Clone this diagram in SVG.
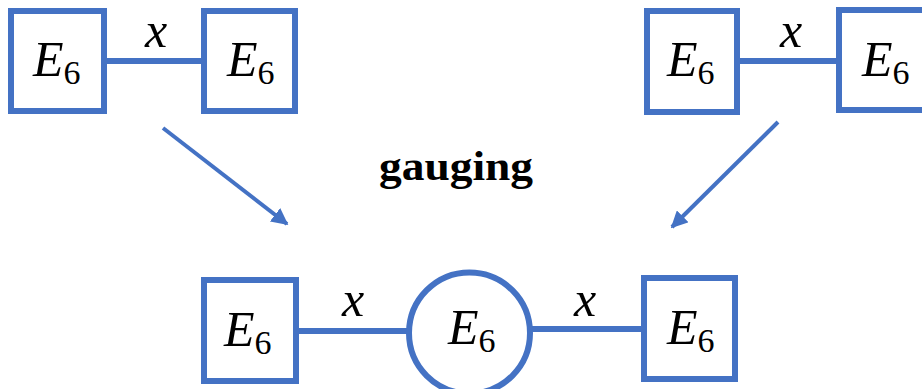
<svg xmlns="http://www.w3.org/2000/svg" width="922" height="389" viewBox="0 0 922 389">
<defs>
<marker id="ah" viewBox="0 0 10 10" refX="9" refY="5" markerWidth="4.2" markerHeight="4.2" orient="auto" markerUnits="strokeWidth">
<path d="M0,0 L10,5 L0,10 z" fill="#4472C4"/>
</marker>
</defs>
<g id="connectors" stroke="#4472C4" fill="none">
<line stroke-width="6" x1="107" y1="61" x2="201" y2="61"/>
<line stroke-width="6" x1="740" y1="61" x2="836" y2="61"/>
<line stroke-width="6" x1="299" y1="331" x2="407" y2="331"/>
<line stroke-width="6" x1="532" y1="329" x2="641" y2="329"/>
<line stroke-width="4" x1="163" y1="128" x2="287" y2="224" marker-end="url(#ah)"/>
<line stroke-width="4" x1="778" y1="122" x2="672" y2="227" marker-end="url(#ah)"/>
</g>
<g id="nodes" fill="#fff" stroke="#4472C4" stroke-width="6">
<rect id="top-left-a" x="11" y="11" width="93" height="100"/>
<rect id="top-left-b" x="204" y="11" width="91" height="100"/>
<rect id="top-right-a" x="647" y="11" width="90" height="101"/>
<rect id="top-right-b" x="839" y="10" width="94" height="100"/>
<rect id="bottom-left" x="204" y="280" width="92" height="101"/>
<circle id="bottom-center" cx="469.5" cy="333" r="60.5"/>
<rect id="bottom-right" x="644" y="278" width="91" height="101"/>
</g>
<text x="145" y="47" font-family="Times New Roman" font-size="50" font-style="italic">x</text>
<text x="780" y="47" font-family="Times New Roman" font-size="50" font-style="italic">x</text>
<text x="342" y="316" font-family="Times New Roman" font-size="50" font-style="italic">x</text>
<text x="574" y="316" font-family="Times New Roman" font-size="50" font-style="italic">x</text>
<text x="33" y="76" font-family="Times New Roman" font-size="50" font-style="italic">E<tspan font-style="normal" font-size="34" dy="8">6</tspan></text>
<text x="227" y="76" font-family="Times New Roman" font-size="50" font-style="italic">E<tspan font-style="normal" font-size="34" dy="8">6</tspan></text>
<text x="667" y="76" font-family="Times New Roman" font-size="50" font-style="italic">E<tspan font-style="normal" font-size="34" dy="8">6</tspan></text>
<text x="862" y="76" font-family="Times New Roman" font-size="50" font-style="italic">E<tspan font-style="normal" font-size="34" dy="8">6</tspan></text>
<text x="224" y="346" font-family="Times New Roman" font-size="50" font-style="italic">E<tspan font-style="normal" font-size="34" dy="8">6</tspan></text>
<text x="448" y="344" font-family="Times New Roman" font-size="50" font-style="italic">E<tspan font-style="normal" font-size="34" dy="8">6</tspan></text>
<text x="667" y="344" font-family="Times New Roman" font-size="50" font-style="italic">E<tspan font-style="normal" font-size="34" dy="8">6</tspan></text>
<text x="379" y="180" font-family="Times New Roman" font-size="43" font-weight="bold" textLength="154" lengthAdjust="spacingAndGlyphs">gauging</text>
</svg>
